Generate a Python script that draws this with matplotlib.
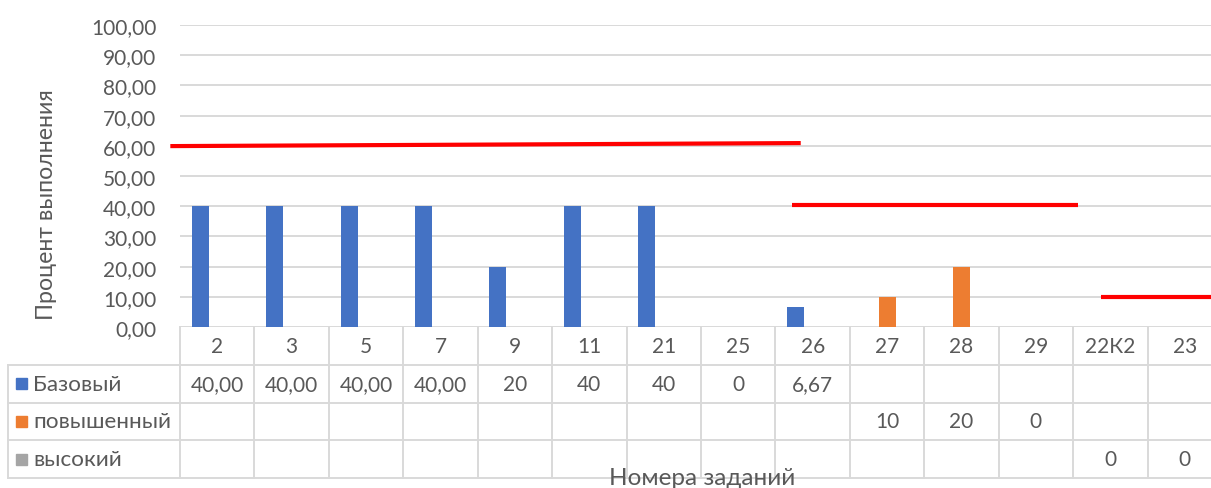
import numpy as np
import matplotlib.pyplot as plt
from matplotlib.patches import Rectangle

plt.rcParams['font.family'] = ['Lato', 'DejaVu Sans']

categories = ['2', '3', '5', '7', '9', '11', '21', '25', '26', '27', '28', '29', '22К2', '23']
series_names = ['Базовый', 'повышенный', 'высокий']
# cell texts as shown in the data table; bar heights are parsed from them
base_text = ['40,00', '40,00', '40,00', '40,00', '20', '40', '40', '0', '6,67', '', '', '', '', '']
raised_text = ['', '', '', '', '', '', '', '', '', '10', '20', '0', '', '']
high_text = ['', '', '', '', '', '', '', '', '', '', '', '', '0', '0']
series_colors = ['#4472C4', '#ED7D31', '#A5A5A5']
yticks = np.arange(0, 101, 10)

# red target lines: start/end in category index units and level at each end
target_x = [(-0.63, 7.84), (7.72, 11.56), (11.88, 13.8)]
target_y = [(59.9, 60.9), (40.3, 40.3), (9.8, 9.8)]

TEXT = '#595959'
GRID = '#D9D9D9'
FS = 15

W, H = 1211, 489
AX_L, AX_R, AX_T, AX_B = 180, 1222, 26, 328
ROW_H = 37.8
LEG_L = 8


def to_num(s):
    return float(s.replace(',', '.')) if s else np.nan


table_text = [base_text, raised_text, high_text]
values = [np.array([to_num(s) for s in row]) for row in table_text]

fig = plt.figure(figsize=(W / 100, H / 100), dpi=100)
ax = fig.add_axes([AX_L / W, (H - AX_B) / H, (AX_R - AX_L) / W, (AX_B - AX_T) / H])
ax.set_facecolor('none')

x = np.arange(len(categories))
bw = 0.228
for k, vals in enumerate(values):
    ok = ~np.isnan(vals)
    ax.bar(x[ok] + (k - 1) * bw, vals[ok], width=bw, color=series_colors[k], zorder=2)

for (x0, x1), (y0, y1) in zip(target_x, target_y):
    ax.plot([x0, x1], [y0, y1], color='#FF0000', lw=3, solid_capstyle='butt',
            clip_on=False, zorder=3)

ax.set_xlim(-0.5, len(categories) - 0.5)
ax.set_ylim(0, 100)
ax.set_yticks(yticks)
ax.set_yticklabels([f'{t:.2f}'.replace('.', ',') for t in yticks], color=TEXT, fontsize=FS)
ax.tick_params(axis='y', length=0, pad=17)
ax.set_xticks([])
ax.yaxis.grid(True, color=GRID, lw=1.4)
ax.set_axisbelow(True)
for s in ax.spines.values():
    s.set_visible(False)

# data table drawn underneath the plot
tab = fig.add_axes([0, 0, 1, 1], zorder=-1)
tab.set_xlim(0, W)
tab.set_ylim(H, 0)
tab.axis('off')

col_px = (AX_R - AX_L) / len(categories)
edges = AX_L + np.arange(len(categories) + 1) * col_px
centers = edges[:-1] + col_px / 2
row_tops = AX_B + np.arange(5) * ROW_H

for e in edges:
    tab.plot([e, e], [row_tops[0], row_tops[-1]], color=GRID, lw=1.4)
tab.plot([LEG_L, LEG_L], [row_tops[1], row_tops[-1]], color=GRID, lw=1.4)
for yl in row_tops[1:]:
    tab.plot([LEG_L, W], [yl, yl], color=GRID, lw=1.4)

for c, lab in zip(centers, categories):
    tab.text(c, row_tops[0] + ROW_H / 2, lab, ha='center', va='center', color=TEXT, fontsize=FS)

for r, (name, row) in enumerate(zip(series_names, table_text)):
    yc = row_tops[r + 1] + ROW_H / 2
    tab.add_patch(Rectangle((16, yc - 5.5), 11, 11, color=series_colors[r]))
    tab.text(33, yc, name, ha='left', va='center', color=TEXT, fontsize=16.2)
    for c, s in zip(centers, row):
        if s:
            tab.text(c, yc, s, ha='center', va='center', color=TEXT, fontsize=FS)

fig.text(47 / W, 1 - 205 / H, 'Процент выполнения', rotation=90, ha='center', va='center',
         color=TEXT, fontsize=16.7)
fig.text(702 / W, 1 - 468 / H, 'Номера заданий', ha='center', va='top', color=TEXT, fontsize=17.5)

fig.savefig('out.png', dpi=100)
